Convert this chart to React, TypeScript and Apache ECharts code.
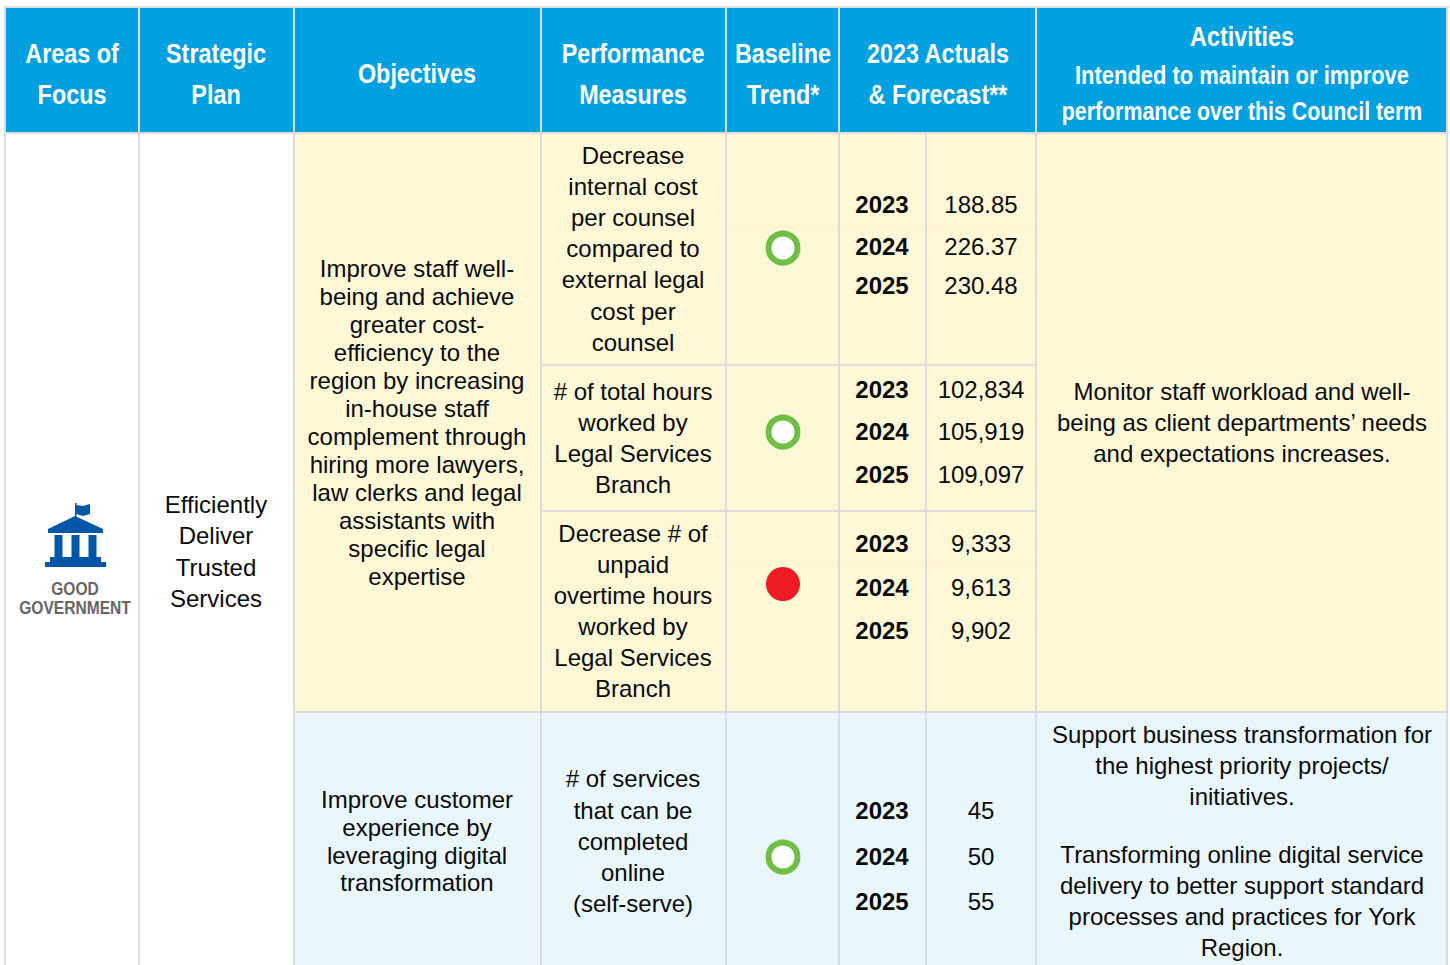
import React, { useEffect, useRef } from "react";
import * as echarts from "echarts";

const headers = [
  ["Areas of", "Focus"],
  ["Strategic", "Plan"],
  ["Objectives"],
  ["Performance", "Measures"],
  ["Baseline", "Trend*"],
  ["2023 Actuals", "& Forecast**"],
  ["Activities", "Intended to maintain or improve", "performance over this Council term"],
];
const areaLines = ["GOOD", "GOVERNMENT"];
const planLines = ["Efficiently", "Deliver", "Trusted", "Services"];
const objective1 = ["Improve staff well-", "being and achieve", "greater cost-", "efficiency to the", "region by increasing", "in-house staff", "complement through", "hiring more lawyers,", "law clerks and legal", "assistants with", "specific legal", "expertise"];
const objective2 = ["Improve customer", "experience by", "leveraging digital", "transformation"];
const measure1 = ["Decrease", "internal cost", "per counsel", "compared to", "external legal", "cost per", "counsel"];
const measure2 = ["# of total hours", "worked by", "Legal Services", "Branch"];
const measure3 = ["Decrease # of", "unpaid", "overtime hours", "worked by", "Legal Services", "Branch"];
const measure4 = ["# of services", "that can be", "completed", "online", "(self-serve)"];
const activities1 = ["Monitor staff workload and well-", "being as client departments’ needs", "and expectations increases."];
const activities2a = ["Support business transformation for", "the highest priority projects/", "initiatives."];
const activities2b = ["Transforming online digital service", "delivery to better support standard", "processes and practices for York", "Region."];
const years = ["2023", "2024", "2025"];
const values1 = ["188.85", "226.37", "230.48"];
const values2 = ["102,834", "105,919", "109,097"];
const values3 = ["9,333", "9,613", "9,902"];
const values4 = ["45", "50", "55"];
const trends = ["good", "good", "bad", "good"];

const BODY = "'Liberation Sans', Arial, sans-serif";
const BORDER = "#dcdcdc";
const BLUE = "#00a0e1";
const CREAM = "#fff8d6";
const PALE = "#e9f6fc";
const INK = "#0a0a0a";

function rect(x: number, y: number, w: number, h: number, fill: string) {
  return { type: "rect", silent: true, shape: { x, y, width: w, height: h }, style: { fill } };
}
function txt(x: number, y: number, text: string, size: number, fill: string, weight = "normal", family = BODY, scaleX = 1) {
  return {
    type: "text", silent: true, x, y, scaleX,
    style: { text, x: 0, y: 0, fill, font: `${weight} ${size}px ${family}`, textAlign: "center", textVerticalAlign: "middle" },
  };
}
function lines(x: number, ys: number[], arr: string[], size = 24) {
  return arr.map((t, i) => txt(x, ys[i] - 1, t, size, INK));
}
function head(x: number, y: number, t: string, size = 27, sx = 0.865) {
  return txt(x, y, t, size, "#ffffff", "bold", BODY, sx);
}

function buildGraphics() {
  const g: any[] = [];
  g.push(rect(0, 0, 1450, 965, "#ffffff"));
  g.push(rect(5, 7, 1443, 127, BLUE));
  g.push(rect(295, 134, 1153, 578, CREAM));
  g.push(rect(295, 712, 1153, 253, PALE));
  // faint seams
  g.push(rect(727, 226, 309, 1, "#fff4c6"));
  g.push(rect(727, 564, 309, 1, "#fff4c6"));
  // borders
  [5, 139, 294, 541, 726, 839, 1036, 1447].forEach((x) => g.push(rect(x - 1, 7, 2, 958, BORDER)));
  g.push(rect(925, 134, 2, 831, BORDER));
  g.push(rect(4, 6, 1445, 2, BORDER));
  g.push(rect(4, 132, 1445, 2, BORDER));
  g.push(rect(294, 711, 1154, 2, BORDER));
  g.push(rect(541, 364, 495, 2, BORDER));
  g.push(rect(541, 510, 495, 2, BORDER));

  // header
  [[72, [53, 94]], [216, [53, 94]], [417, [73]], [633, [53, 94]], [783, [53, 94]], [938, [53, 94]]].forEach(([x, ys]: any, i) => {
    headers[i].forEach((t, j) => g.push(head(x, ys[j], t)));
  });
  g.push(head(1242, 36, headers[6][0]));
  g.push(head(1242, 75, headers[6][1], 25, 0.878));
  g.push(head(1242, 111, headers[6][2], 25, 0.854));

  // icon
  const navy = "#0057a8";
  g.push(rect(75, 503, 1.5, 14, navy));
  g.push({ type: "polygon", silent: true, shape: { points: [[76, 505], [83, 506], [90, 504], [90, 514], [83, 516], [76, 514]] }, style: { fill: navy } });
  g.push({ type: "polygon", silent: true, shape: { points: [[48, 529], [75, 516], [103, 529], [103, 533], [48, 533]] }, style: { fill: navy } });
  [54.5, 71.5, 88.5].forEach((x) => g.push(rect(x, 535, 8, 23, navy)));
  g.push(rect(50, 557, 51, 5, navy));
  g.push(rect(45, 562, 61, 5, navy));
  g.push(txt(75, 588, areaLines[0], 19, "#666666", "bold", BODY, 0.82));
  g.push(txt(75, 607, areaLines[1], 19, "#666666", "bold", BODY, 0.82));

  g.push(...lines(216, [505, 536, 568, 599], planLines));
  g.push(...lines(417, [269, 297, 325, 353, 381, 409, 437, 465, 493, 521, 549, 577], objective1));
  g.push(...lines(417, [800, 828, 856, 883], objective2));
  g.push(...lines(633, [156, 187, 218, 249, 280, 312, 343], measure1));
  g.push(...lines(633, [392, 423, 454, 485], measure2));
  g.push(...lines(633, [534, 565, 596, 627, 658, 689], measure3));
  g.push(...lines(633, [779, 811, 842, 873, 904], measure4));
  g.push(...lines(1242, [392, 423, 454], activities1));
  g.push(...lines(1242, [735, 766, 797], activities2a));
  g.push(...lines(1242, [855, 886, 917, 948], activities2b));

  const rowYs = [[205, 247, 286], [390, 432, 475], [544, 588, 631], [811, 857, 902]];
  [values1, values2, values3, values4].forEach((vals, r) => {
    vals.forEach((v, i) => {
      g.push(txt(882, rowYs[r][i] - 1, years[i], 24, INK, "bold"));
      g.push(txt(981, rowYs[r][i] - 1, v, 24, INK));
    });
  });

  const dotYs = [248, 432, 584, 857];
  trends.forEach((t, i) => {
    g.push(t === "good"
      ? { type: "circle", silent: true, shape: { cx: 783, cy: dotYs[i], r: 14.5 }, style: { fill: "#ffffff", stroke: "#70bf44", lineWidth: 6 } }
      : { type: "circle", silent: true, shape: { cx: 783, cy: dotYs[i], r: 17 }, style: { fill: "#ed1c24" } });
  });
  return g;
}

export default function App() {
  const ref = useRef<HTMLDivElement>(null);
  useEffect(() => {
    document.body.style.margin = "0";
    const chart = echarts.init(ref.current!, undefined, { renderer: "svg" });
    chart.setOption({ animation: false, graphic: { elements: buildGraphics() } });
    return () => chart.dispose();
  }, []);
  return <div ref={ref} style={{ width: 1450, height: 965 }} />;
}
